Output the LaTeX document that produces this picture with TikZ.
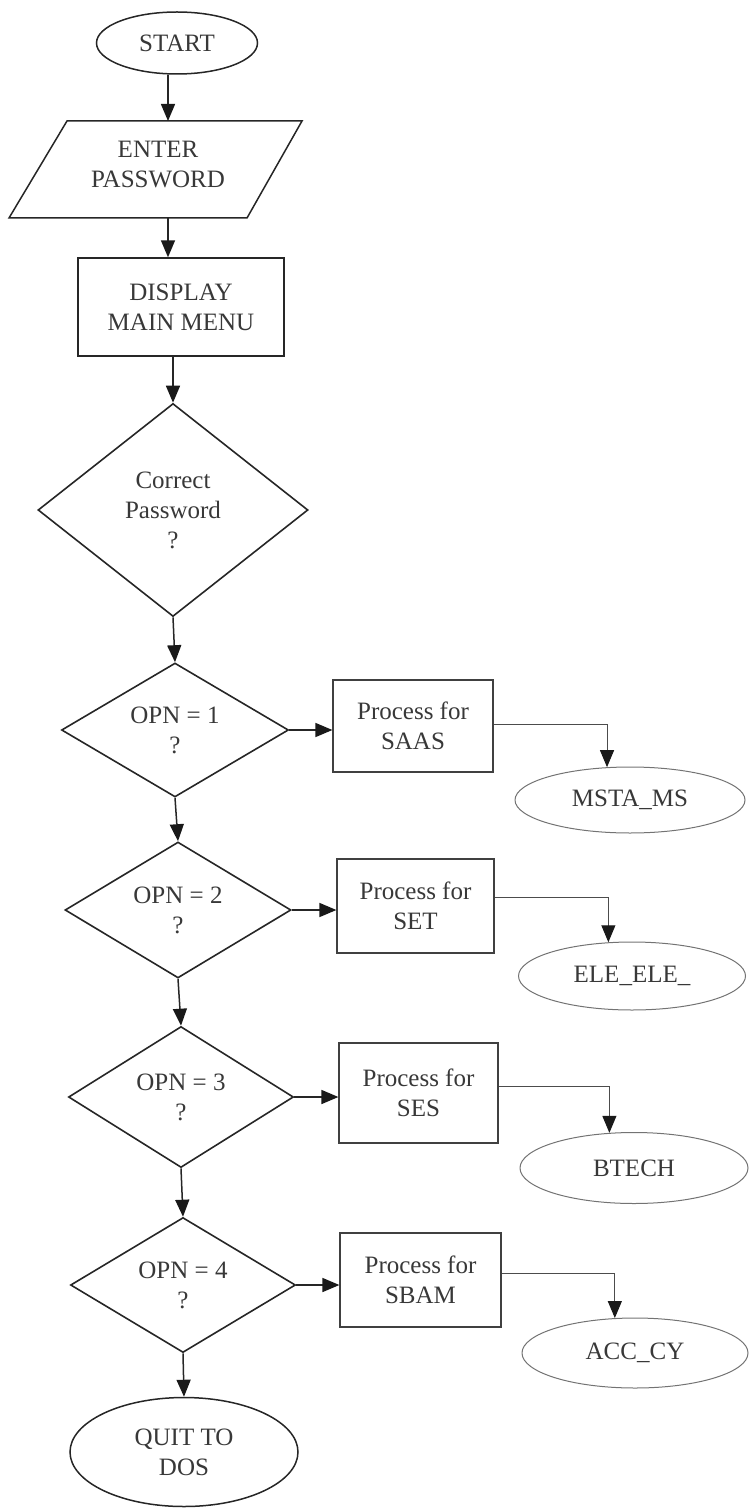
\documentclass[tikz,border=0pt]{standalone}
\usepackage{fontspec}
\setmainfont{Liberation Serif}
\usetikzlibrary{shapes.geometric,arrows.meta}
\begin{document}
\begin{tikzpicture}[x=0.5pt,y=-0.5pt,
  every node/.style={font=\fontsize{12.5}{15}\selectfont, text=black!78, align=center, inner sep=0pt},
  term/.style={ellipse, draw=black!85, line width=0.75pt},
  outterm/.style={ellipse, draw=black!55, line width=0.5pt},
  proc/.style={rectangle, draw=black!85, line width=0.7pt},
  subproc/.style={rectangle, draw=black!75, line width=0.6pt},
  dec/.style={diamond, draw=black!85, line width=0.8pt, shape aspect=1.7},
  shapeline/.style={draw=black!85, line width=0.75pt},
  arr/.style={draw=black!85, line width=0.75pt, -{Triangle[length=8.5pt,width=7pt,fill=black!90,color=black!90]}},
  link/.style={draw=black!70, line width=0.5pt, -{Triangle[length=8.5pt,width=7pt,fill=black!90,color=black!90]}}
]
\useasboundingbox (0,0) rectangle (749,1508);

% main column
\node[term, minimum width=80.5pt, minimum height=31pt] (start) at (177,43) {START};

\coordinate (pTL) at (67,121);
\coordinate (pTR) at (302,121);
\coordinate (pBR) at (247,218);
\coordinate (pBL) at (9,218);
\draw[shapeline] (pTL) -- (pTR) -- (pBR) -- (pBL) -- cycle;
\node (inp) at (158,165) {ENTER\\PASSWORD};
\coordinate (inT) at (168,121);
\coordinate (inB) at (168,218);

\node[proc, minimum width=103pt, minimum height=49pt] (disp) at (181,307) {DISPLAY\\MAIN MENU};

\node[dec, minimum width=135pt, minimum height=106.5pt] (corr) at (173,510) {Correct\\Password\\?};

\node[dec, minimum width=113.5pt, minimum height=67pt] (o1) at (175,730) {OPN = 1\\?};
\node[dec, minimum width=113pt, minimum height=68pt] (o2) at (178,910) {OPN = 2\\?};
\node[dec, minimum width=112.5pt, minimum height=70.5pt] (o3) at (181,1097) {OPN = 3\\?};
\node[dec, minimum width=112.5pt, minimum height=67.5pt] (o4) at (183,1285) {OPN = 4\\?};

\node[term, minimum width=114pt, minimum height=54.5pt] (quit) at (184,1452) {QUIT TO\\DOS};

% process boxes
\node[subproc, minimum width=80pt, minimum height=46pt] (s1) at (413,726) {Process for\\SAAS};
\node[subproc, minimum width=78.5pt, minimum height=47pt] (s2) at (415.5,906) {Process for\\SET};
\node[subproc, minimum width=79.5pt, minimum height=50pt] (s3) at (418.5,1093) {Process for\\SES};
\node[subproc, minimum width=80.5pt, minimum height=47pt] (s4) at (420.5,1280) {Process for\\SBAM};

% result ellipses
\node[outterm, minimum width=115pt, minimum height=33pt] (m1) at (630,800) {MSTA\_MS};
\node[outterm, minimum width=113.5pt, minimum height=34pt] (m2) at (632,976) {ELE\_ELE\_};
\node[outterm, minimum width=114pt, minimum height=35.5pt] (m3) at (634,1168) {BTECH};
\node[outterm, minimum width=113pt, minimum height=35pt] (m4) at (635,1353) {ACC\_CY};

% main connectors
\draw[arr] (start.south -| inT) -- (inT);
\draw[arr] (inB) -- (inB |- disp.north);
\draw[arr] (disp.south -| corr.north) -- (corr.north);
\draw[arr] (corr.south) -- (o1.north);
\draw[arr] (o1.south) -- (o2.north);
\draw[arr] (o2.south) -- (o3.north);
\draw[arr] (o3.south) -- (o4.north);
\draw[arr] (o4.south) -- (quit.north);

% branches
\draw[arr] (o1.east) -- (o1.east -| s1.west);
\draw[arr] (o2.east) -- (o2.east -| s2.west);
\draw[arr] (o3.east) -- (o3.east -| s3.west);
\draw[arr] (o4.east) -- (o4.east -| s4.west);

\draw[link] ([yshift=1pt]s1.east) -| (m1.125);
\draw[link] ([yshift=4.5pt]s2.east) -| (m2.125);
\draw[link] ([yshift=3.5pt]s3.east) -| (m3.125);
\draw[link] ([yshift=3.5pt]s4.east) -| (m4.120);
\end{tikzpicture}
\end{document}
